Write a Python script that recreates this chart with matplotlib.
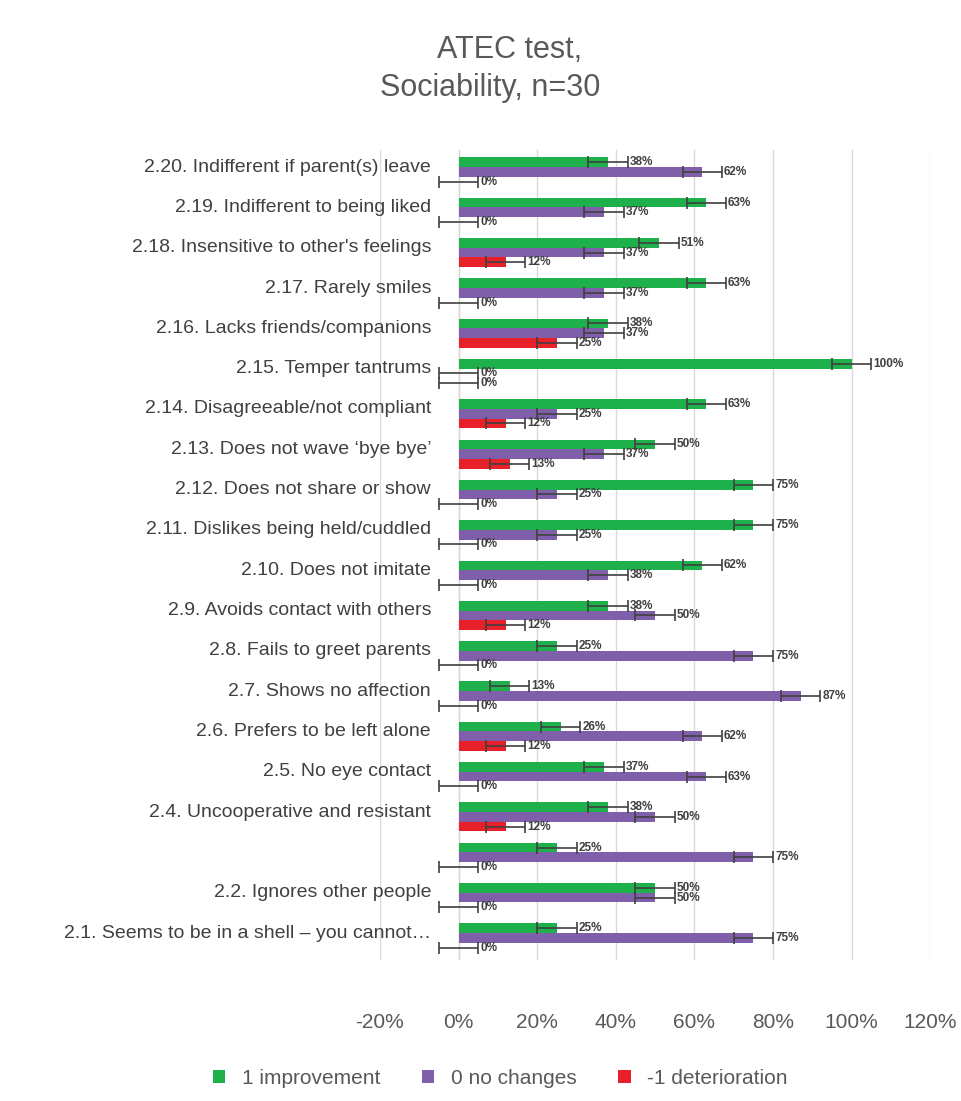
import matplotlib.pyplot as plt
import numpy as np

plt.rcParams['font.family'] = ['Liberation Sans', 'DejaVu Sans']

categories = [
    "2.1. Seems to be in a shell \u2013 you cannot\u2026",
    "2.2. Ignores other people",
    "",
    "2.4. Uncooperative and resistant",
    "2.5. No eye contact",
    "2.6. Prefers to be left alone",
    "2.7. Shows no affection",
    "2.8. Fails to greet parents",
    "2.9. Avoids contact with others",
    "2.10. Does not imitate",
    "2.11. Dislikes being held/cuddled",
    "2.12. Does not share or show",
    "2.13. Does not wave \u2018bye bye\u2019",
    "2.14. Disagreeable/not compliant",
    "2.15. Temper tantrums",
    "2.16. Lacks friends/companions",
    "2.17. Rarely smiles",
    "2.18. Insensitive to other's feelings",
    "2.19. Indifferent to being liked",
    "2.20. Indifferent if parent(s) leave",
]
improvement = [25, 50, 25, 38, 37, 26, 13, 25, 38, 62, 75, 75, 50, 63, 100, 38, 63, 51, 63, 38]
no_change   = [75, 50, 75, 50, 63, 62, 87, 75, 50, 38, 25, 25, 37, 25, 0, 37, 37, 37, 37, 62]
deterior    = [0, 0, 0, 12, 0, 12, 0, 0, 12, 0, 0, 0, 13, 12, 0, 25, 0, 12, 0, 0]
err = 5

colors = ['#1db04b', '#7f5fa9', '#e8202a']
names = ['1 improvement', '0 no changes', '-1 deterioration']

fig = plt.figure(figsize=(9.62, 11.01), dpi=100)
ax = fig.add_axes([0.395, 0.128, 0.572, 0.736])

y = np.arange(len(categories))
h = 0.24
offsets = [h, 0, -h]
for vals, col, name, off in zip([improvement, no_change, deterior], colors, names, offsets):
    v = np.array(vals) / 100
    ax.barh(y + off, v, height=h, color=col, label=name, zorder=2)
    ax.errorbar(v, y + off, xerr=err / 100, fmt='none', ecolor='#404040',
                elinewidth=1.2, capsize=4, capthick=1.2, zorder=3)
    for yi, val in zip(y + off, vals):
        ax.text(val / 100 + err / 100 + 0.005, yi, f"{val}%", va='center', ha='left',
                fontsize=8.5, fontweight='bold', color='#404040', zorder=4)

for yi, c in zip(y, categories):
    ax.text(-0.07, yi + 0.12, c, ha='right', va='center', fontsize=14, color='#404040')

ax.set_xlim(-0.2, 1.2)
ax.set_ylim(-0.55, len(categories) - 0.45)
ax.set_xticks(np.arange(-0.2, 1.21, 0.2))
ax.set_xticklabels([f"{int(round(t*100))}%" for t in np.arange(-0.2, 1.21, 0.2)],
                   fontsize=15, color='#595959')
ax.tick_params(axis='x', length=0, pad=38)
ax.set_yticks([])
ax.grid(axis='x', color='#d9d9d9', linewidth=1, zorder=0)
for s in ax.spines.values():
    s.set_visible(False)
ax.axvline(0, color='#d9d9d9', linewidth=1, zorder=1)

fig.text(0.53, 0.955, "ATEC test,", ha='center', va='center', fontsize=22, color='#595959')
fig.text(0.51, 0.92, "Sociability, n=30", ha='center', va='center', fontsize=22, color='#595959')

fig.legend(loc='lower center', bbox_to_anchor=(0.52, -0.005), ncol=3, frameon=False,
           fontsize=15, handlelength=0.6, handleheight=0.6, columnspacing=2,
           labelcolor='#595959')

fig.savefig('out.png', dpi=100)
